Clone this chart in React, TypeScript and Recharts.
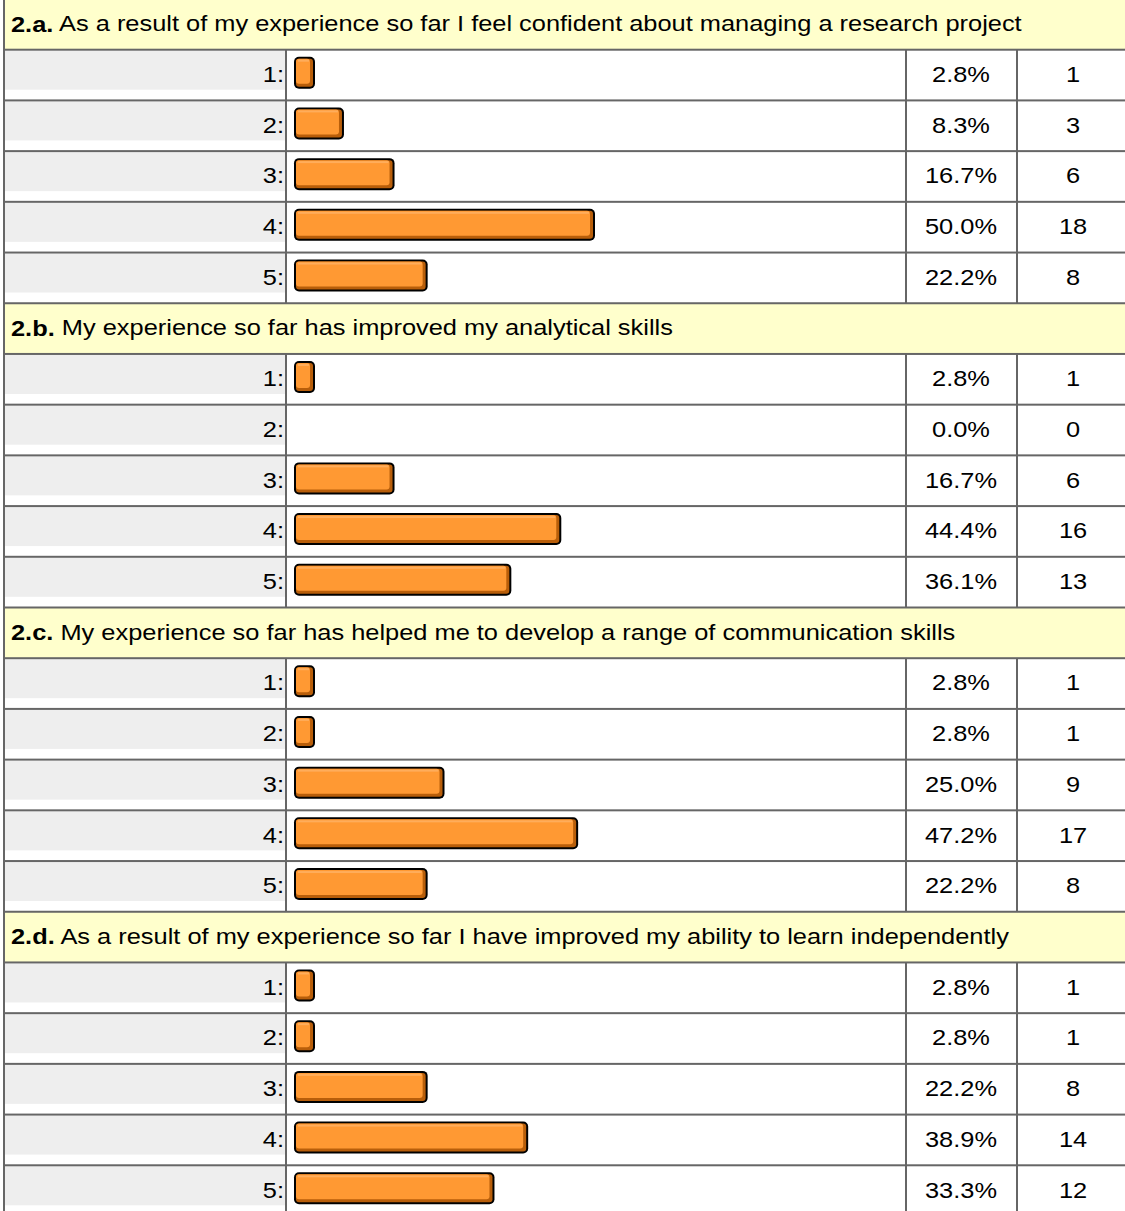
import { BarChart, Bar, XAxis, YAxis } from "recharts";

// survey section 2 results
const questionIds = ["2.a.", "2.b.", "2.c.", "2.d."];
const questionTexts = [
  "As a result of my experience so far I feel confident about managing a research project",
  "My experience so far has improved my analytical skills",
  "My experience so far has helped me to develop a range of communication skills",
  "As a result of my experience so far I have improved my ability to learn independently",
];
const scaleLabels = ["1:", "2:", "3:", "4:", "5:"];

const percentA = [2.8, 8.3, 16.7, 50.0, 22.2];
const percentB = [2.8, 0.0, 16.7, 44.4, 36.1];
const percentC = [2.8, 2.8, 25.0, 47.2, 22.2];
const percentD = [2.8, 2.8, 22.2, 38.9, 33.3];

const countA = [1, 3, 6, 18, 8];
const countB = [1, 0, 6, 16, 13];
const countC = [1, 1, 9, 17, 8];
const countD = [1, 1, 8, 14, 12];

const percents = [percentA, percentB, percentC, percentD];
const counts = [countA, countB, countC, countD];

type Row = {
  id: string;
  head: boolean;
  title?: string;
  text?: string;
  label?: string;
  pct: number | null;
  count?: number;
};

const rows: Row[] = [];
questionIds.forEach((q, qi) => {
  rows.push({ id: q, head: true, title: q, text: questionTexts[qi], pct: null });
  scaleLabels.forEach((lab, i) =>
    rows.push({
      id: `${q}${i + 1}`,
      head: false,
      label: lab,
      pct: percents[qi][i],
      count: counts[qi][i],
    })
  );
});
const rowById: Record<string, Row> = {};
rows.forEach((r) => (rowById[r.id] = r));

const W = 1125;
const H = 1217;
const BAND = H / rows.length;
const LABEL_W = 294; // bars start here
const PLOT_W = 602; // 100%
const FONT = "Arial, 'Liberation Sans', Helvetica, sans-serif";
const GRID = "#666666";
const STRETCH = 1.155; // the screenshot's text is a bit wide

function Label(props: { x: number; y: number; anchor?: string; children: any }) {
  return (
    <text
      transform={`translate(${props.x},${props.y}) scale(${STRETCH},1)`}
      x={0}
      y={0}
      textAnchor={props.anchor || "start"}
      dominantBaseline="central"
      fontSize={22}
      fontFamily={FONT}
      fill="#000"
    >
      {props.children}
    </text>
  );
}

function RowTick(props: any) {
  const { y, payload } = props;
  const row = rowById[payload.value];
  if (!row) return null;
  const top = y - BAND / 2;
  const mid = top + BAND / 2 - 1;

  if (row.head) {
    return (
      <g>
        <rect x={5} y={top} width={W} height={BAND} fill="#FFFFCC" />
        <rect x={3} y={top - 1} width={W} height={2} fill={GRID} />
        <rect x={3} y={top} width={2} height={BAND} fill={GRID} />
        <Label x={11} y={mid}>
          <tspan fontWeight="bold">{row.title}</tspan> {row.text}
        </Label>
      </g>
    );
  }

  return (
    <g>
      <rect x={5} y={top + 1} width={280} height={39} fill="#EEEEEE" />
      <rect x={3} y={top - 1} width={W} height={2} fill={GRID} />
      <rect x={3} y={top} width={2} height={BAND} fill={GRID} />
      <rect x={285} y={top} width={2} height={BAND} fill={GRID} />
      <rect x={905} y={top} width={2} height={BAND} fill={GRID} />
      <rect x={1016} y={top} width={2} height={BAND} fill={GRID} />
      <Label x={284} y={mid} anchor="end">
        {row.label}
      </Label>
      <Label x={961} y={mid} anchor="middle">
        {(row.pct ?? 0).toFixed(1)}%
      </Label>
      <Label x={1073} y={mid} anchor="middle">
        {row.count}
      </Label>
    </g>
  );
}

function OrangeBar(props: any) {
  const { x, y, height, payload } = props;
  if (!payload || !payload.pct) return <g />;
  const w = Math.max(props.width, 21);
  const top = y - 2;
  return (
    <g>
      <rect x={x} y={top} width={w} height={height} rx={5} fill="#000" />
      <rect x={x + 2} y={top + 2} width={w - 4} height={height - 4} rx={3} fill="#B85E0A" />
      <rect x={x + 2} y={top + 2} width={w - 7} height={height - 7} rx={3} fill="#FF9933" />
      <rect x={x + 4} y={top + 3} width={w - 10} height={2} fill="#FFAD5B" />
    </g>
  );
}

export default function App() {
  return (
    <div
      style={{
        position: "absolute",
        left: 0,
        top: 0,
        width: W,
        height: 1211,
        overflow: "hidden",
        background: "#fff",
      }}
    >
      <div style={{ position: "relative", top: -1 }}>
        <BarChart
          width={W}
          height={H}
          data={rows}
          layout="vertical"
          margin={{ top: 0, right: W - LABEL_W - PLOT_W, bottom: 0, left: 0 }}
          barSize={32}
        >
          <XAxis type="number" domain={[0, 100]} hide />
          <YAxis
            type="category"
            dataKey="id"
            width={LABEL_W}
            interval={0}
            axisLine={false}
            tickLine={false}
            tick={<RowTick />}
          />
          <Bar dataKey="pct" shape={<OrangeBar />} isAnimationActive={false} />
        </BarChart>
      </div>
    </div>
  );
}
